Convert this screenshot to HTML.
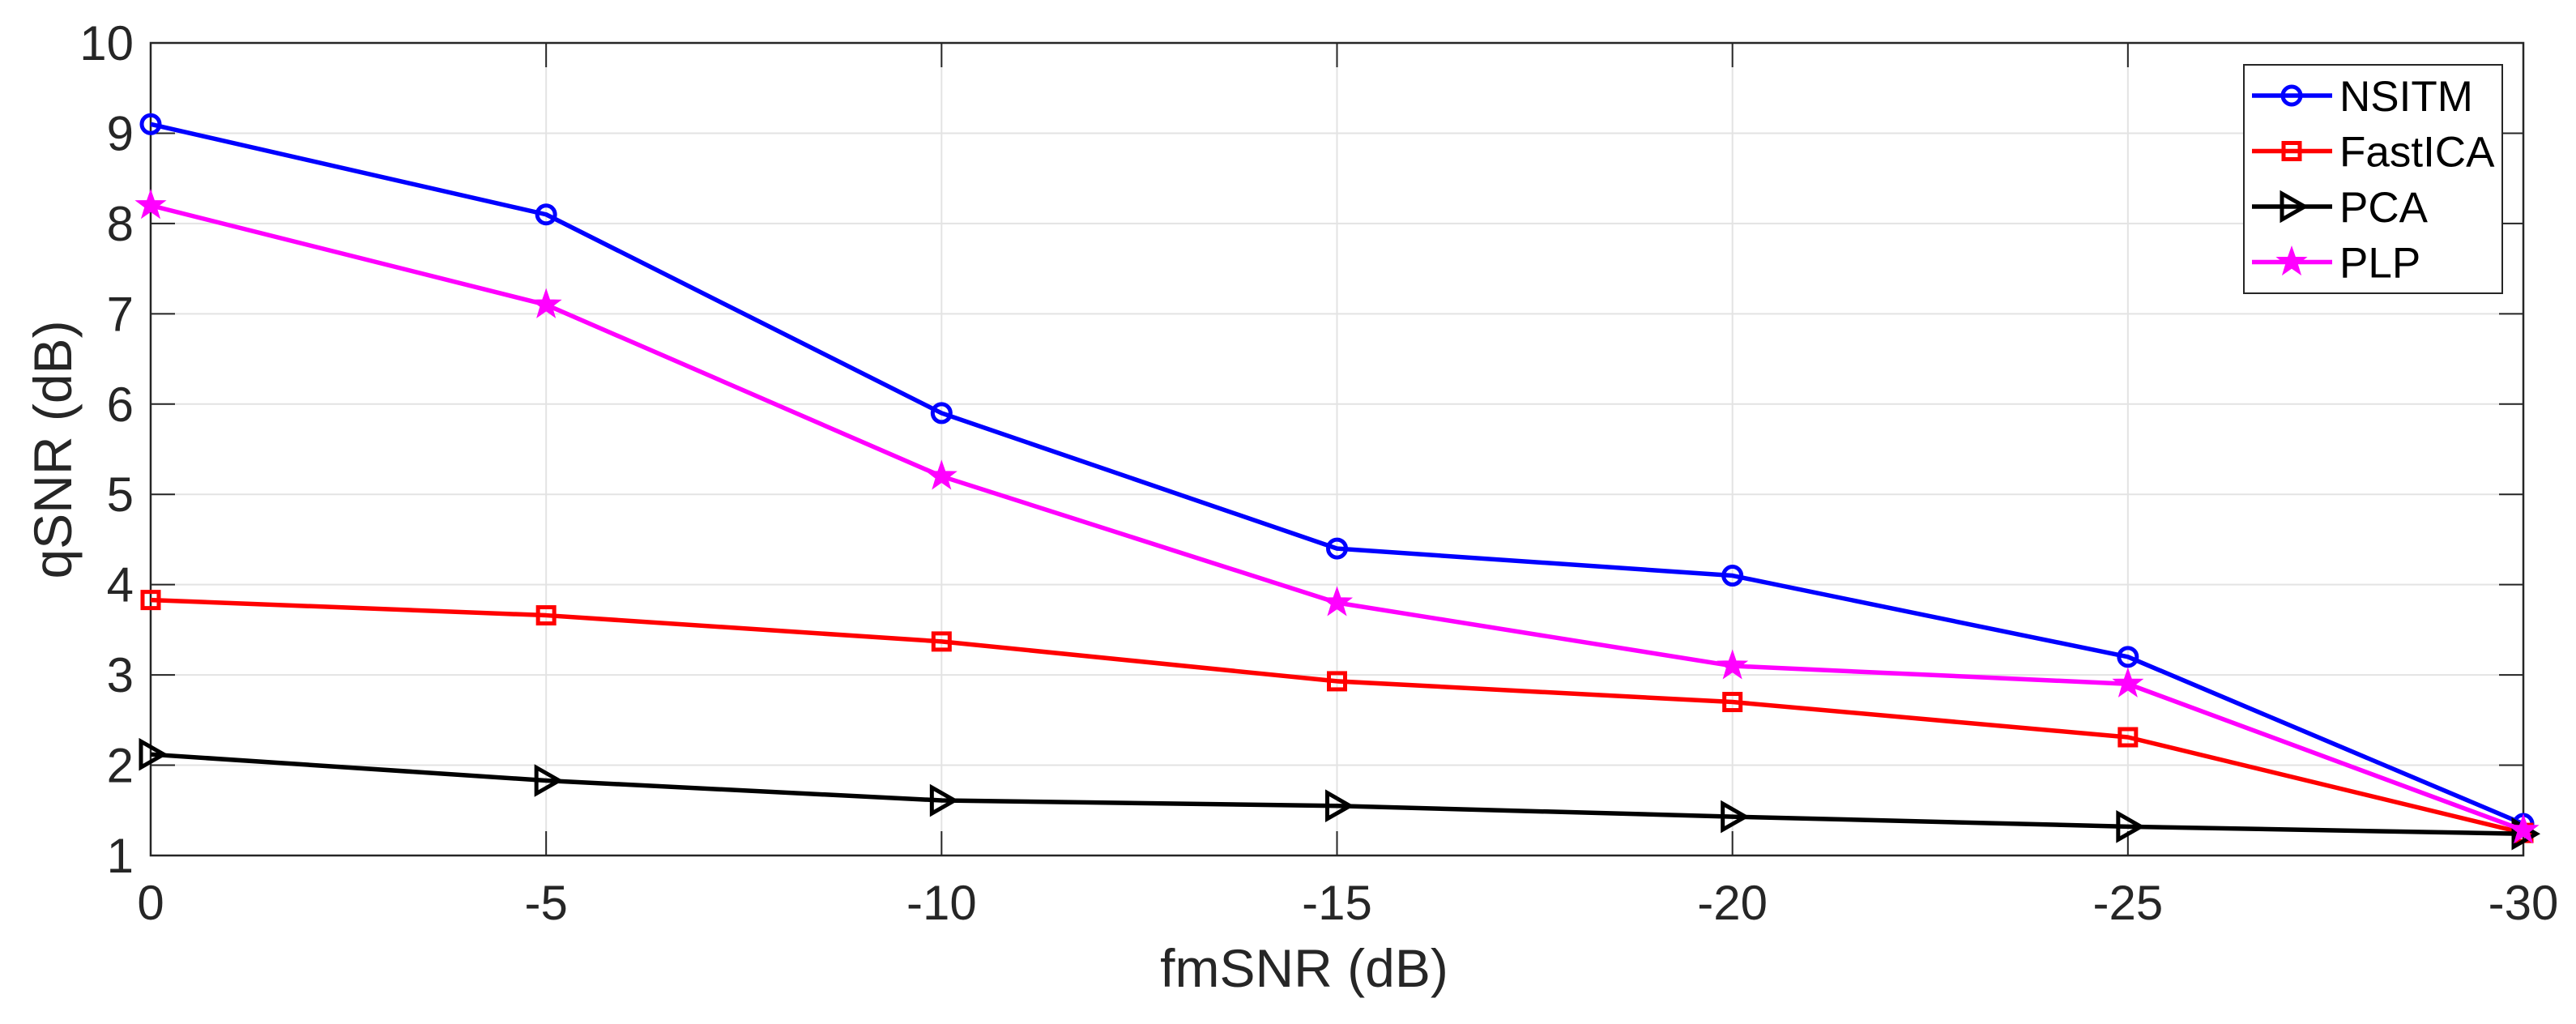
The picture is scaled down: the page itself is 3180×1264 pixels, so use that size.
<!DOCTYPE html>
<html><head><meta charset="utf-8"><style>
body{margin:0;background:#fff}
svg{display:block;font-family:"Liberation Sans",Arial,sans-serif}
</style></head><body>
<svg id="chart" width="3180" height="1264"></svg>
<script>
const categories=[0,-5,-10,-15,-20,-25,-30];
const yTicks=[1,2,3,4,5,6,7,8,9,10];
const seriesNames=["NSITM","FastICA","PCA","PLP"];
const nsitm=[9.1,8.1,5.9,4.4,4.1,3.2,1.35];
const fastica=[3.83,3.66,3.37,2.93,2.7,2.31,1.25];
const pca=[2.12,1.83,1.61,1.55,1.43,1.32,1.24];
const plp=[8.2,7.1,5.2,3.8,3.1,2.9,1.28];

const L=186,R=3115,T=53,B=1056;
const NS="http://www.w3.org/2000/svg";
const svg=document.getElementById('chart');
function xs(i){return L+i*(R-L)/(categories.length-1);}
function ys(v){return B-(v-1)*(B-T)/9;}
function mk(tag,attrs,parent){const e=document.createElementNS(NS,tag);for(const k in attrs)e.setAttribute(k,attrs[k]);(parent||svg).appendChild(e);return e;}

// grid
for(let i=0;i<categories.length;i++){
  const g=mk('line',{x1:xs(i),x2:xs(i),y1:T,y2:B,stroke:'#e3e3e3','stroke-width':2});
  
  
}
for(const v of yTicks){
  const g=mk('line',{x1:L,x2:R,y1:ys(v),y2:ys(v),stroke:'#e3e3e3','stroke-width':2});
  
  
}
// ticks and labels
for(let i=0;i<categories.length;i++){
  const x=xs(i);
  mk('line',{x1:x,x2:x,y1:B,y2:B-30,stroke:'#262626','stroke-width':2});
  mk('line',{x1:x,x2:x,y1:T,y2:T+30,stroke:'#262626','stroke-width':2});
  const t=mk('text',{x:x,y:1135,'text-anchor':'middle','font-size':60,fill:'#262626'});
  t.textContent=String(categories[i]);
  
  
}
for(const v of yTicks){
  const y=ys(v);
  mk('line',{x1:L,x2:L+30,y1:y,y2:y,stroke:'#262626','stroke-width':2});
  mk('line',{x1:R,x2:R-30,y1:y,y2:y,stroke:'#262626','stroke-width':2});
  const t=mk('text',{x:165,y:y+21,'text-anchor':'end','font-size':60,fill:'#262626'});
  t.textContent=String(v);
  
  
}
const frame=mk('rect',{x:L,y:T,width:R-L,height:B-T,fill:'none',stroke:'#262626','stroke-width':2.5});



const xt=mk('text',{x:1610,y:1218,'text-anchor':'middle','font-size':66,fill:'#262626'});
xt.textContent='fmSNR (dB)';


const yt=mk('text',{x:0,y:0,'text-anchor':'middle','font-size':66,fill:'#262626',transform:'translate(88,555) rotate(-90)'});
yt.textContent='qSNR (dB)';



function star(cx,cy,r){let p=[];for(let k=0;k<10;k++){const a=-Math.PI/2+k*Math.PI/5;const rr=k%2?r*0.4:r;p.push((cx+rr*Math.cos(a)).toFixed(1)+','+(cy+rr*Math.sin(a)).toFixed(1));}return p.join(' ');}
function marker(type,x,y,color,parent){
  if(type==='o')return mk('circle',{cx:x,cy:y,r:11,fill:'none',stroke:color,'stroke-width':5},parent);
  if(type==='s')return mk('rect',{x:x-10,y:y-10,width:20,height:20,fill:'none',stroke:color,'stroke-width':5},parent);
  if(type==='>')return mk('polygon',{points:`${x-12},${y-16} ${x+16},${y} ${x-12},${y+16}`,fill:'none',stroke:color,'stroke-width':5},parent);
  return mk('polygon',{points:star(x,y,19),fill:color,stroke:color,'stroke-width':1},parent);
}
const series=[[nsitm,'#0000ff','o','nsitm'],[fastica,'#ff0000','s','fastica'],[pca,'#000000','>','pca'],[plp,'#ff00ff','*','plp']];
for(const [vals,color,m,name] of series){
  const g=mk('g',{});
  
  
  const pts=vals.map((v,i)=>xs(i)+','+ys(v)).join(' ');
  const pl=mk('polyline',{points:pts,fill:'none',stroke:color,'stroke-width':5.5,'stroke-linejoin':'round'},g);
  
  
  vals.forEach((v,i)=>{
    const mm=marker(m,xs(i),ys(v),color,g);
    
    
  });
}
// legend
const lg=mk('g',{});


mk('rect',{x:2770,y:80,width:319,height:282,fill:'#fff',stroke:'#262626','stroke-width':2},lg);
seriesNames.forEach((n,i)=>{
  const y=118+i*68.5;
  const [vals,color,m,name]=series[i];
  const e=mk('g',{},lg);
  
  
  mk('line',{x1:2780,x2:2879,y1:y,y2:y,stroke:color,'stroke-width':5.5},e);
  marker(m,2829,y,color,e);
  const t=mk('text',{x:2888,y:y+19,'font-size':53,fill:'#000'},e);
  t.textContent=n;
});
</script>
</body></html>
